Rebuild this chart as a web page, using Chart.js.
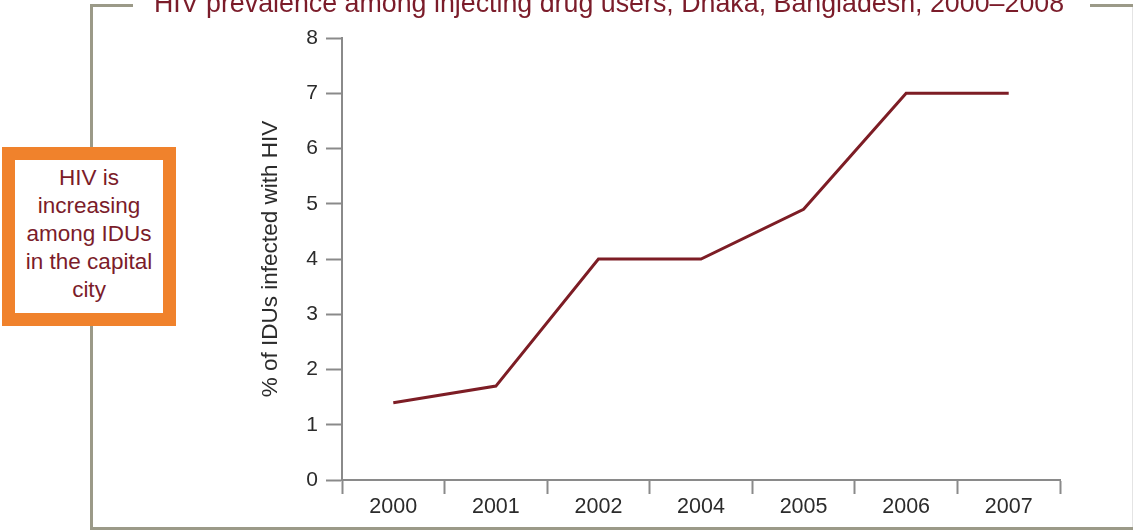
<!DOCTYPE html>
<html lang="en">
<head>
  <meta charset="UTF-8" />
  <title>HIV prevalence among IDUs, Dhaka</title>
  <script src="https://cdn.jsdelivr.net/npm/chart.js"></script>
  <style>
    html, body { margin: 0; padding: 0; background: #fff; overflow: hidden; }
    body { width: 1133px; height: 530px; position: relative; font-family: 'Liberation Sans', Arial, Helvetica, sans-serif; }
    .chart-wrap { position: absolute; left: 0; top: 0; width: 1133px; height: 530px; }
    .rule { position: absolute; background: #9b9a88; }
    .title {
      position: absolute; left: 0; width: 1218px; top: -9px;
      text-align: center; color: #7b1c2a; font-size: 26.8px; line-height: 24px;
      white-space: nowrap;
    }
    .note {
      position: absolute; left: 2px; top: 147px; width: 148px; height: 149px;
      border: 13px solid #f0822c; background: #fff;
      color: #7b1c2a; font-size: 22.5px; line-height: 28px; text-align: center;
      padding-top: 4px; box-sizing: content-box;
    }
  </style>
</head>
<body>
  <div class="chart-wrap"><canvas id="hivChart"></canvas></div>

  <!-- frame -->
  <div class="rule" style="left:90px; top:4px; width:3px; height:526px;"></div>
  <div class="rule" style="left:90px; top:4px; width:43px; height:3px;"></div>
  <div class="rule" style="left:1090px; top:4px; width:43px; height:3px;"></div>
  <div class="rule" style="left:90px; top:527px; width:1043px; height:3px;"></div>
  <div class="rule" style="left:1132px; top:7px; width:1px; height:520px; background:#e4e4e4;"></div>

  <div class="title">HIV prevalence among injecting drug users, Dhaka, Bangladesh, 2000–2008</div>

  <div class="note">HIV is<br>increasing<br>among IDUs<br>in the capital<br>city</div>

  <script>
    const years = ['2000', '2001', '2002', '2004', '2005', '2006', '2007'];
    const prevalence = [1.4, 1.7, 4.0, 4.0, 4.9, 7.0, 7.0];
    const yTicks = [0, 1, 2, 3, 4, 5, 6, 7, 8];

    const axisGrey = '#8a8a8a';

    new Chart(document.getElementById('hivChart'), {
      type: 'line',
      data: {
        labels: years,
        datasets: [{
          data: prevalence,
          borderColor: '#7d1d25',
          borderWidth: 3,
          pointRadius: 0,
          tension: 0,
          fill: false
        }]
      },
      options: {
        responsive: true,
        maintainAspectRatio: false,
        animation: false,
        layout: { padding: { left: 253, right: 73, top: 38, bottom: 0 } },
        plugins: { legend: { display: false }, tooltip: { enabled: false } },
        scales: {
          x: {
            offset: true,
            grid: {
              offset: true, drawOnChartArea: false, drawTicks: true,
              tickLength: 14, tickColor: axisGrey, tickWidth: 2
            },
            border: { display: true, color: axisGrey, width: 2 },
            ticks: { color: '#2b2b2b', font: { size: 21.5 }, padding: 0, maxRotation: 0 },
            afterFit: s => { s.height = 50; }
          },
          y: {
            min: yTicks[0],
            max: yTicks[yTicks.length - 1],
            afterBuildTicks: s => { s.ticks = yTicks.map(v => ({ value: v })); },
            grid: {
              drawOnChartArea: false, drawTicks: true,
              tickLength: 16, tickColor: axisGrey, tickWidth: 2
            },
            border: { display: true, color: axisGrey, width: 2 },
            ticks: { color: '#2b2b2b', font: { size: 21 }, padding: 8 },
            title: {
              display: true,
              text: '% of IDUs infected with HIV',
              color: '#2b2b2b',
              font: { size: 22.5 },
              padding: { top: 4, bottom: 4 }
            },
            afterFit: s => { s.width = 89; }
          }
        }
      },
      plugins: [{
        id: 'fonts',
        beforeInit: () => { Chart.defaults.font.family = "'Liberation Sans', Arial, Helvetica, sans-serif"; }
      }]
    });
  </script>
</body>
</html>
